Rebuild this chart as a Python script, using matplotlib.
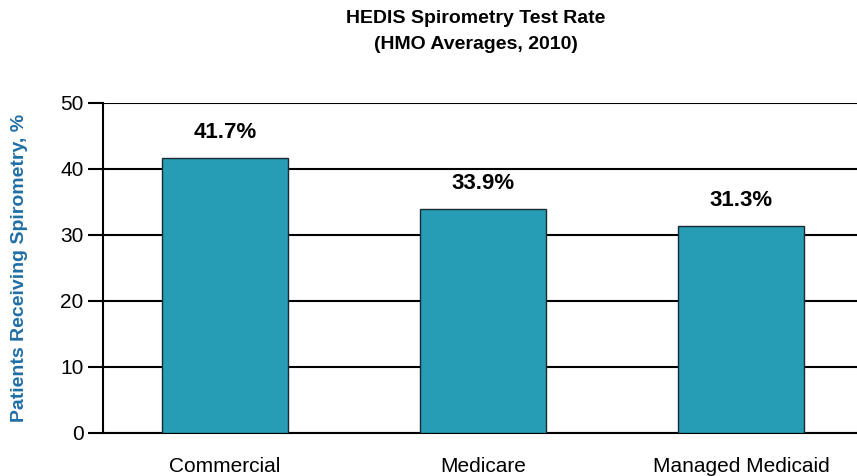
import matplotlib.pyplot as plt

categories = ['Commercial', 'Medicare', 'Managed Medicaid']
rates = [41.7, 33.9, 31.3]
value_labels = ['41.7%', '33.9%', '31.3%']
y_ticks = [0, 10, 20, 30, 40, 50]

plt.rcParams['font.family'] = ['Liberation Sans', 'DejaVu Sans']

fig = plt.figure(figsize=(8.57, 4.76), dpi=100)
# axes placed in figure pixels: left 103, right 857, bottom y=433, top y=103
ax = fig.add_axes([103 / 857, (476 - 433) / 476, (857 - 103) / 857, 330 / 476])

x = range(len(categories))
ax.bar(x, rates, width=0.49, color='#269cb5', edgecolor='#1b2a30', linewidth=1.0, zorder=3)

for xi, val, lab in zip(x, rates, value_labels):
    ax.text(xi, val + 2.3, lab, ha='center', va='bottom', fontsize=16, fontweight='bold')

ax.set_xlim(-0.473, 2.45)
ax.set_ylim(0, 50)
ax.set_yticks(y_ticks)
ax.yaxis.grid(True, color='black', linewidth=1.5, zorder=0)
ax.set_axisbelow(True)

ax.set_xticks(list(x))
ax.set_xticklabels(categories, fontsize=15)
ax.tick_params(axis='x', length=0, pad=17)
ax.tick_params(axis='y', length=11, width=1.5, labelsize=15, pad=3)

for s in ['top', 'right']:
    ax.spines[s].set_visible(False)
ax.spines['left'].set_linewidth(1.5)
ax.spines['bottom'].set_linewidth(1.5)

ax.set_ylabel('Patients Receiving Spirometry, %', fontsize=14, fontweight='bold',
              color='#1f6fa6', labelpad=23)

fig.text(0.555, 0.98, 'HEDIS Spirometry Test Rate', ha='center', va='top',
         fontsize=14, fontweight='bold')
fig.text(0.555, 0.925, '(HMO Averages, 2010)', ha='center', va='top',
         fontsize=14, fontweight='bold')

fig.savefig('out.png', dpi=100)
